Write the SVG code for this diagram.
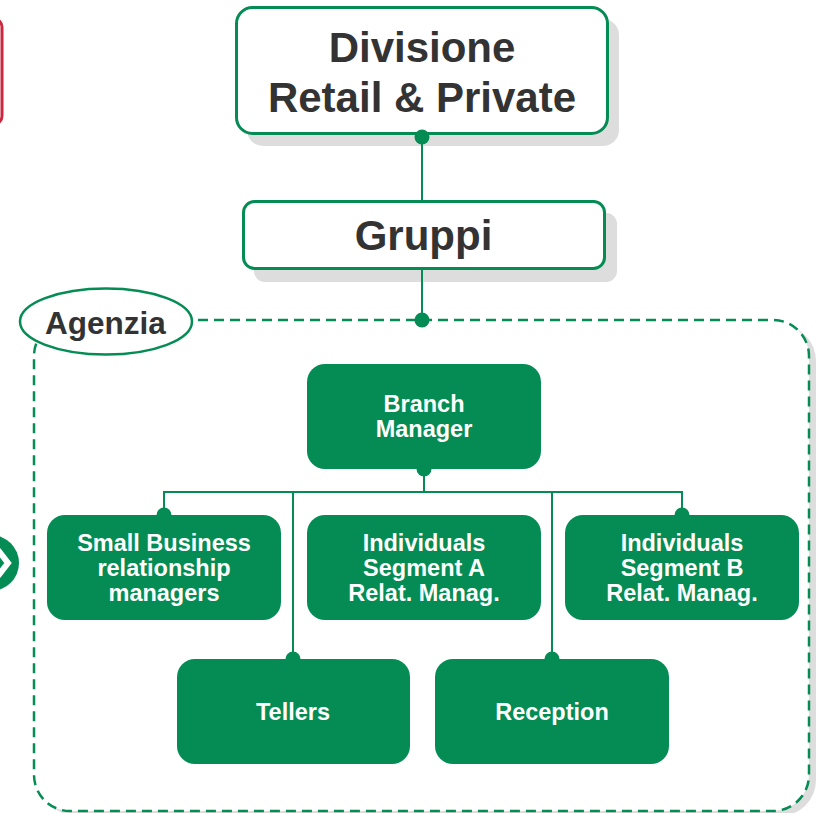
<svg xmlns="http://www.w3.org/2000/svg" width="816" height="813" viewBox="0 0 816 813">
<style>
.shadow{fill:#dddddd}
.wbox{fill:#ffffff;stroke:#048C54;stroke-width:3}
.gbox{fill:#048C54}
.ttl{font-family:"Liberation Sans",Arial,sans-serif;font-weight:bold;fill:#333333;text-anchor:middle}
.lbl{font-family:"Liberation Sans",Arial,sans-serif;font-weight:bold;fill:#ffffff;text-anchor:middle;font-size:23.5px}
.ln{stroke:#048C54;stroke-width:2;fill:none}
.dot{fill:#048C54}
</style>
<rect width="816" height="813" fill="#ffffff"/>
<!-- partial elements at left edge -->
<g id="edge-red">
<rect x="-200" y="19" width="202" height="105" rx="8" fill="#ffffff" stroke="#C9283F" stroke-width="3"/>
</g>
<g id="edge-arrow">
<circle cx="-9" cy="563" r="28" fill="#048C54"/>
<polyline points="-2,550 8,563 -2,576" fill="none" stroke="#ffffff" stroke-width="6"/>
</g>
<!-- container Agenzia -->
<g id="agenzia">
<rect class="shadow" x="41" y="325" width="775" height="491" rx="36"/>
<rect x="34" y="320" width="775" height="491" rx="36" fill="#ffffff" stroke="#048C54" stroke-width="2.5" stroke-dasharray="10 6"/>
<ellipse cx="106" cy="321.5" rx="86" ry="33" fill="#ffffff" stroke="#048C54" stroke-width="2.5"/>
<text class="ttl" x="105.5" y="334" font-size="31.5">Agenzia</text>
</g>
<g id="divisione">
<rect class="shadow" x="247" y="19" width="372" height="127" rx="16"/>
<rect class="wbox" x="236.5" y="7.5" width="371" height="126" rx="16"/>
<text class="ttl" x="422" y="62" font-size="42">Divisione</text>
<text class="ttl" x="422" y="112" font-size="42">Retail &amp; Private</text>
</g>
<g id="gruppi">
<rect class="shadow" x="254" y="213" width="363" height="69" rx="11"/>
<rect class="wbox" x="243.5" y="201.5" width="361" height="67" rx="11"/>
<text class="ttl" x="423.5" y="250" font-size="42">Gruppi</text>
</g>
<g id="connectors">
<line class="ln" x1="422" y1="137" x2="422" y2="201"/>
<line class="ln" x1="422" y1="269" x2="422" y2="320"/>
<circle class="dot" cx="422" cy="137" r="7.5"/>
<circle class="dot" cx="422" cy="320" r="7.5"/>
<line class="ln" x1="424" y1="469" x2="424" y2="492"/>
<polyline class="ln" points="164,515 164,492 682,492 682,515"/>
<line class="ln" x1="293" y1="492" x2="293" y2="659"/>
<line class="ln" x1="552" y1="492" x2="552" y2="659"/>
<circle class="dot" cx="424" cy="469" r="7.5"/>
<circle class="dot" cx="164" cy="515" r="7.5"/>
<circle class="dot" cx="682" cy="515" r="7.5"/>
<circle class="dot" cx="293" cy="659" r="7.5"/>
<circle class="dot" cx="552" cy="659" r="7.5"/>
</g>
<g id="branch-manager">
<rect class="gbox" x="307" y="364" width="234" height="105" rx="18"/>
<text class="lbl" x="424" y="412">Branch</text>
<text class="lbl" x="424" y="437">Manager</text>
</g>
<g id="small-business">
<rect class="gbox" x="47" y="515" width="234" height="105" rx="18"/>
<text class="lbl" x="164" y="551">Small Business</text>
<text class="lbl" x="164" y="576">relationship</text>
<text class="lbl" x="164" y="601">managers</text>
</g>
<g id="segment-a">
<rect class="gbox" x="307" y="515" width="234" height="105" rx="18"/>
<text class="lbl" x="424" y="551">Individuals</text>
<text class="lbl" x="424" y="576">Segment A</text>
<text class="lbl" x="424" y="601">Relat. Manag.</text>
</g>
<g id="segment-b">
<rect class="gbox" x="565" y="515" width="234" height="105" rx="18"/>
<text class="lbl" x="682" y="551">Individuals</text>
<text class="lbl" x="682" y="576">Segment B</text>
<text class="lbl" x="682" y="601">Relat. Manag.</text>
</g>
<g id="tellers">
<rect class="gbox" x="177" y="659" width="233" height="105" rx="18"/>
<text class="lbl" x="293" y="720">Tellers</text>
</g>
<g id="reception">
<rect class="gbox" x="435" y="659" width="234" height="105" rx="18"/>
<text class="lbl" x="552" y="720">Reception</text>
</g>
</svg>
